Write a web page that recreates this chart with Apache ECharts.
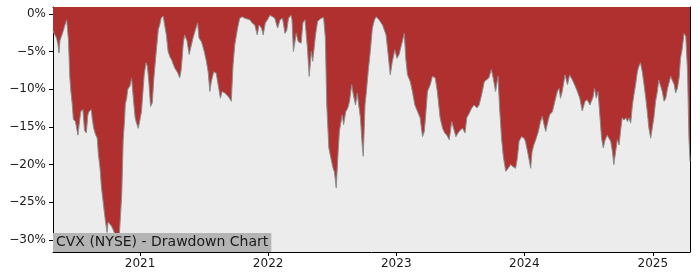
<!DOCTYPE html>
<html>
<head>
<meta charset="utf-8">
<script src="https://cdn.jsdelivr.net/npm/echarts@6/dist/echarts.min.js"></script>
<style>
html,body{margin:0;padding:0;background:#fff;}
#chart{width:700px;height:280px;}
</style>
</head>
<body>
<div id="chart"></div>
<script>
const chartTitle = 'CVX (NYSE) - Drawdown Chart';
const yTicks = [0, -5, -10, -15, -20, -25, -30];
const xTickYears = [2021, 2022, 2023, 2024, 2025];

const dates = [
'2020-04-28','2020-05-01','2020-05-08','2020-05-12','2020-05-15','2020-05-18','2020-05-22','2020-05-27',
'2020-06-01','2020-06-06','2020-06-08','2020-06-11','2020-06-15','2020-06-18','2020-06-22','2020-06-25',
'2020-07-01','2020-07-04','2020-07-08','2020-07-12','2020-07-16','2020-07-22','2020-07-27',
'2020-08-01','2020-08-05','2020-08-08','2020-08-15','2020-08-18','2020-08-22','2020-08-27',
'2020-09-01','2020-09-04','2020-09-09','2020-09-13','2020-09-18','2020-09-23','2020-09-29',
'2020-10-02','2020-10-07','2020-10-12','2020-10-17','2020-10-21','2020-10-26','2020-10-30',
'2020-11-02','2020-11-05','2020-11-10','2020-11-14','2020-11-18','2020-11-20','2020-11-24','2020-11-27',
'2020-12-01','2020-12-03','2020-12-08','2020-12-14','2020-12-18','2020-12-22','2020-12-27',
'2021-01-01','2021-01-05','2021-01-09','2021-01-13','2021-01-18','2021-01-22','2021-01-26','2021-01-31',
'2021-02-05','2021-02-09','2021-02-14','2021-02-22','2021-02-26',
'2021-03-02','2021-03-08','2021-03-11','2021-03-17','2021-03-22','2021-03-28',
'2021-04-01','2021-04-04','2021-04-10','2021-04-18','2021-04-24','2021-04-28',
'2021-05-01','2021-05-04','2021-05-08','2021-05-12','2021-05-15','2021-05-21','2021-05-25',
'2021-06-01','2021-06-08','2021-06-14','2021-06-18','2021-06-25',
'2021-07-03','2021-07-09','2021-07-14','2021-07-19','2021-07-23','2021-07-30',
'2021-08-06','2021-08-11','2021-08-18','2021-08-23','2021-08-30',
'2021-09-06','2021-09-13','2021-09-18','2021-09-23','2021-09-28',
'2021-10-06','2021-10-12','2021-10-19','2021-10-27',
'2021-11-03','2021-11-10','2021-11-16','2021-11-24',
'2021-12-01','2021-12-06','2021-12-13','2021-12-18','2021-12-24','2021-12-30',
'2022-01-06','2022-01-14','2022-01-20','2022-01-28',
'2022-02-04','2022-02-11','2022-02-18','2022-02-23','2022-02-28',
'2022-03-03','2022-03-07','2022-03-10','2022-03-14','2022-03-17','2022-03-22','2022-03-24','2022-03-28',
'2022-04-05','2022-04-10','2022-04-16','2022-04-19','2022-04-23','2022-04-28',
'2022-05-04','2022-05-08','2022-05-10','2022-05-16','2022-05-22',
'2022-06-01','2022-06-08','2022-06-13','2022-06-17','2022-06-23','2022-06-29',
'2022-07-05','2022-07-09','2022-07-14','2022-07-19','2022-07-23','2022-07-31',
'2022-08-04','2022-08-10','2022-08-16','2022-08-21','2022-08-27',
'2022-09-01','2022-09-07','2022-09-12','2022-09-16','2022-09-21','2022-09-26','2022-09-29',
'2022-10-04','2022-10-07','2022-10-13','2022-10-19','2022-10-25','2022-10-31',
'2022-11-05','2022-11-08','2022-11-13','2022-11-23',
'2022-12-03','2022-12-09','2022-12-15','2022-12-21','2022-12-28',
'2023-01-03','2023-01-09','2023-01-16','2023-01-24','2023-01-28',
'2023-02-02','2023-02-10','2023-02-16','2023-02-23',
'2023-03-03','2023-03-10','2023-03-17','2023-03-22','2023-03-26','2023-03-31',
'2023-04-08','2023-04-14','2023-04-22','2023-04-28',
'2023-05-06','2023-05-13','2023-05-19','2023-05-25',
'2023-06-01','2023-06-08','2023-06-13','2023-06-20','2023-06-26',
'2023-07-03','2023-07-09','2023-07-16','2023-07-21','2023-07-28',
'2023-08-04','2023-08-11','2023-08-19','2023-08-25',
'2023-09-01','2023-09-09','2023-09-13','2023-09-22','2023-09-29',
'2023-10-04','2023-10-11','2023-10-18','2023-10-22','2023-10-28',
'2023-11-02','2023-11-09','2023-11-16','2023-11-23','2023-11-30',
'2023-12-07','2023-12-12','2023-12-17','2023-12-24','2023-12-31',
'2024-01-04','2024-01-12','2024-01-19','2024-01-23','2024-01-28',
'2024-02-04','2024-02-10','2024-02-16','2024-02-21','2024-02-26',
'2024-03-02','2024-03-06','2024-03-13','2024-03-21','2024-03-28',
'2024-04-04','2024-04-09','2024-04-13','2024-04-18','2024-04-26',
'2024-05-03','2024-05-09','2024-05-17','2024-05-25','2024-05-31',
'2024-06-07','2024-06-14','2024-06-22','2024-06-28',
'2024-07-06','2024-07-15','2024-07-19','2024-07-24','2024-07-29',
'2024-08-03','2024-08-08','2024-08-13','2024-08-17','2024-08-24','2024-08-29',
'2024-09-03','2024-09-08','2024-09-12','2024-09-17','2024-09-22','2024-09-27',
'2024-10-02','2024-10-06','2024-10-11','2024-10-16','2024-10-21','2024-10-25','2024-10-30',
'2024-11-04','2024-11-08','2024-11-13','2024-11-18','2024-11-22','2024-11-27',
'2024-12-02','2024-12-07','2024-12-12','2024-12-16','2024-12-21','2024-12-26','2024-12-31',
'2025-01-04','2025-01-09','2025-01-14','2025-01-18','2025-01-23','2025-01-28',
'2025-02-02','2025-02-07','2025-02-12','2025-02-16','2025-02-21','2025-02-26',
'2025-03-03','2025-03-07','2025-03-12','2025-03-17','2025-03-21','2025-03-26','2025-03-31',
'2025-04-05','2025-04-10','2025-04-14','2025-04-17'
];

const drawdown = [
-2.2,-2.6,-3.2,-4.0,-5.2,-3.5,-3.0,-2.3,
-1.5,-0.8,-0.6,-3.5,-8.5,-10.3,-12.1,-14.0,
-14.3,-14.5,-16.1,-14.5,-13.0,-12.7,-15.5,
-15.8,-13.5,-13.0,-12.7,-14.0,-15.2,-16.0,
-16.5,-18.5,-20.5,-23.0,-25.0,-27.0,-29.0,
-27.6,-27.4,-28.2,-28.7,-29.2,-30.0,-31.0,
-30.0,-27.8,-23.8,-16.7,-14.0,-12.0,-11.2,-10.0,
-9.9,-9.6,-8.6,-11.8,-13.8,-14.5,-15.2,
-15.0,-13.0,-10.5,-8.0,-6.5,-7.0,-9.0,-12.3,
-11.8,-8.8,-6.1,-2.1,-1.5,
-0.6,-0.3,-1.2,-2.8,-5.0,-5.8,
-6.1,-6.5,-7.2,-7.8,-8.5,-7.5,
-5.9,-4.0,-2.8,-3.0,-3.6,-5.4,-4.6,
-3.2,-2.1,-1.2,-3.2,-3.7,
-5.0,-6.3,-7.7,-10.3,-9.0,-7.7,
-7.9,-8.1,-11.2,-10.3,-10.5,
-10.8,-11.2,-11.6,-6.8,-4.1,
-1.9,-0.6,-0.4,-0.6,
-0.7,-0.8,-1.2,-1.5,
-2.8,-1.5,-1.9,-2.8,-1.2,-0.8,
-0.2,-0.4,-0.6,-1.9,
-0.8,-0.6,-2.6,-2.2,-0.6,
-0.4,-0.2,-0.8,-5.0,-4.8,-2.6,-3.0,-3.7,
-3.9,-1.2,-0.8,-0.9,-4.6,-8.3,
-5.0,-6.3,-6.1,-2.8,-1.0,
-0.6,-0.5,-3.2,-12.1,-17.8,-19.2,
-20.5,-21.0,-23.1,-18.7,-15.6,-13.4,
-14.7,-13.0,-12.5,-11.6,-9.4,
-10.8,-12.1,-10.5,-12.1,-13.8,-17.4,-18.9,
-12.1,-10.8,-7.7,-5.0,-1.9,-0.8,
-0.4,-0.6,-0.8,-1.5,
-2.8,-5.4,-8.1,-6.3,-4.8,
-5.9,-5.4,-4.1,-2.6,-5.9,
-8.1,-9.0,-10.3,-12.1,
-13.0,-13.8,-16.3,-15.6,-13.4,-10.3,
-9.4,-8.3,-8.5,-10.3,
-13.8,-15.2,-15.8,-16.1,
-16.7,-14.3,-14.5,-16.3,-15.8,
-15.4,-15.2,-15.8,-13.8,-13.2,
-12.5,-12.1,-12.5,-12.1,
-10.8,-9.0,-9.0,-8.5,-7.4,
-8.5,-10.3,-8.3,-12.1,-16.5,
-18.9,-20.9,-20.5,-20.0,-20.3,
-20.5,-19.2,-16.9,-16.3,-16.5,
-16.9,-18.7,-20.5,-18.3,-17.4,
-16.5,-15.6,-14.3,-13.6,-14.7,
-15.6,-14.7,-13.4,-13.0,-11.6,
-10.3,-9.9,-11.2,-10.3,-8.1,
-9.4,-8.1,-8.8,-9.6,-10.3,
-11.2,-12.9,-11.6,-11.4,
-12.1,-11.0,-9.9,-11.2,-10.3,
-13.4,-16.5,-17.8,-16.9,-16.1,-15.9,
-16.9,-18.3,-20.0,-18.3,-16.7,-17.4,
-15.2,-13.8,-14.1,-13.8,-14.3,-13.8,-14.5,
-12.1,-10.8,-9.4,-7.7,-7.0,-6.5,
-7.7,-9.4,-11.2,-12.9,-15.2,-16.5,-16.3,
-13.8,-11.6,-10.3,-8.8,-9.0,-10.3,
-11.6,-11.2,-9.9,-9.2,-8.3,-8.5,
-9.4,-10.5,-9.9,-8.5,-5.9,-4.6,-2.6,
-3.0,-7.7,-16.5,-19.6
];

function toTime(s) {
  const p = s.split('-').map(Number);
  return Date.UTC(p[0], p[1] - 1, p[2]);
}
const seriesData = dates.map((d, i) => [toTime(d), drawdown[i]]);
const yearTickValues = xTickYears.map(y => Date.UTC(y, 0, 1));
const xMin = toTime(dates[0]);
const xMax = toTime(dates[dates.length - 1]);
const fontFam = 'DejaVu Sans';

const chart = echarts.init(document.getElementById('chart'), null, {renderer: 'canvas'});
chart.setOption({
  animation: false,
  backgroundColor: '#ffffff',
  title: {
    text: chartTitle,
    left: 53,
    bottom: 28,
    padding: [2, 3, 2, 3],
    backgroundColor: '#b4b4b4',
    textStyle: {fontFamily: fontFam, fontSize: 14, fontWeight: 'normal', color: '#1a1a1a', lineHeight: 15}
  },
  grid: {left: 53, right: 10, top: 7, bottom: 28, show: true, backgroundColor: '#ececec', borderWidth: 0},
  xAxis: [{
    type: 'value',
    min: xMin,
    max: xMax,
    scale: true,
    splitLine: {show: false},
    axisLine: {show: true, onZero: false, lineStyle: {color: '#000', width: 1}},
    axisTick: {show: true, customValues: yearTickValues, length: 4, lineStyle: {color: '#000'}},
    axisLabel: {
      customValues: yearTickValues,
      formatter: v => String(new Date(v).getUTCFullYear()),
      fontFamily: fontFam, fontSize: 12, color: '#1a1a1a', margin: 6
    }
  }, {
    type: 'value',
    position: 'top',
    min: xMin,
    max: xMax,
    scale: true,
    splitLine: {show: false},
    axisLine: {show: true, onZero: false, lineStyle: {color: '#000', width: 1}},
    axisTick: {show: false},
    axisLabel: {show: false}
  }],
  yAxis: [{
    type: 'value',
    min: -31.6,
    max: 0.9,
    splitLine: {show: false},
    axisLine: {show: true, onZero: false, lineStyle: {color: '#000', width: 1}},
    axisTick: {show: true, customValues: yTicks, length: 4, lineStyle: {color: '#000'}},
    axisLabel: {
      customValues: yTicks,
      formatter: v => (v < 0 ? '\u2212' + Math.abs(v) : String(v)) + '%',
      fontFamily: fontFam, fontSize: 12, color: '#1a1a1a', margin: 7
    }
  }, {
    type: 'value',
    position: 'right',
    min: -31.6,
    max: 0.9,
    splitLine: {show: false},
    axisLine: {show: true, onZero: false, lineStyle: {color: '#000', width: 1}},
    axisTick: {show: false},
    axisLabel: {show: false}
  }],
  series: [{
    type: 'line',
    data: seriesData,
    xAxisIndex: 0,
    yAxisIndex: 0,
    showSymbol: false,
    symbol: 'none',
    smooth: false,
    lineStyle: {color: '#8c8c8c', width: 1},
    areaStyle: {color: '#b03030', opacity: 1, origin: 'end'},
    z: 1
  }]
});
</script>
</body>
</html>
